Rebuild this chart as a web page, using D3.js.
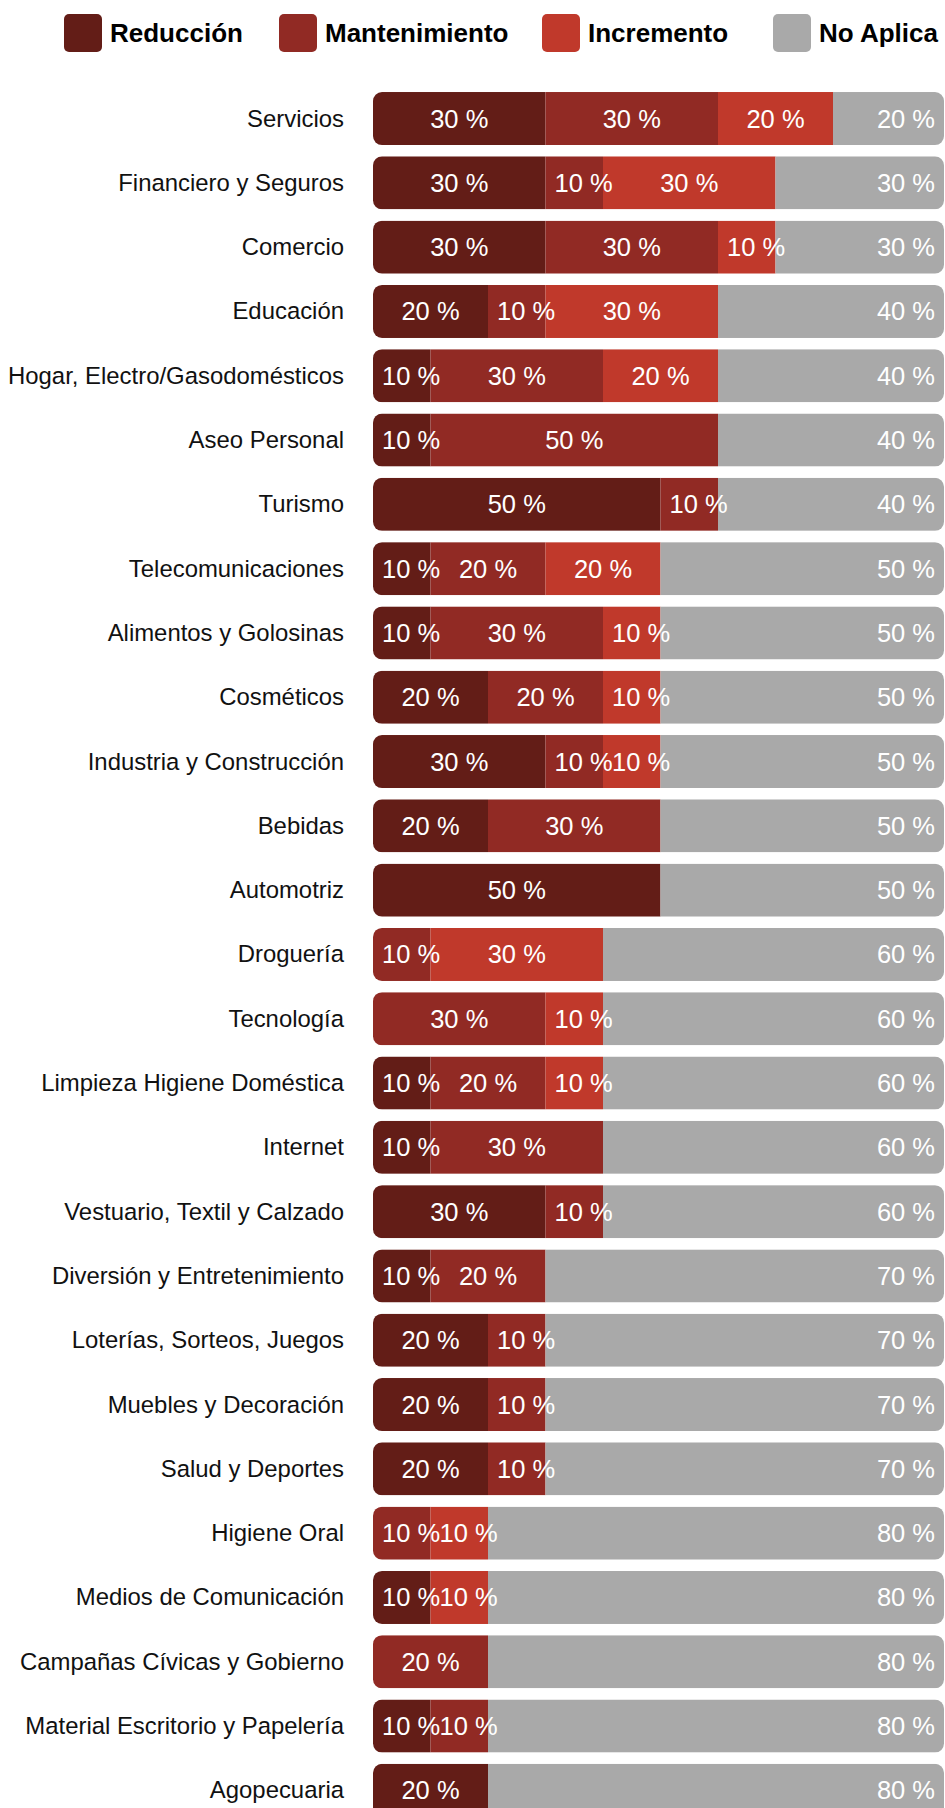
<!DOCTYPE html>
<html>
<head>
<meta charset="utf-8">
<script src="https://cdn.jsdelivr.net/npm/d3@7"></script>
<style>
  body { margin: 0; background: #fff; }
  svg { display: block; }
</style>
</head>
<body>
<div id="plot"></div>
<script>
// categories, top to bottom
const sectors = [
  "Servicios", "Financiero y Seguros", "Comercio", "Educación",
  "Hogar, Electro/Gasodomésticos", "Aseo Personal", "Turismo",
  "Telecomunicaciones", "Alimentos y Golosinas", "Cosméticos",
  "Industria y Construcción", "Bebidas", "Automotriz", "Droguería",
  "Tecnología", "Limpieza Higiene Doméstica", "Internet",
  "Vestuario, Textil y Calzado", "Diversión y Entretenimiento",
  "Loterías, Sorteos, Juegos", "Muebles y Decoración", "Salud y Deportes",
  "Higiene Oral", "Medios de Comunicación", "Campañas Cívicas y Gobierno",
  "Material Escritorio y Papelería", "Agopecuaria"
];
const seriesNames = ["Reducción", "Mantenimiento", "Incremento", "No Aplica"];

// percentages per series, same order as sectors
const reduccion     = [30, 30, 30, 20, 10, 10, 50, 10, 10, 20, 30, 20, 50, 0, 0, 10, 10, 30, 10, 20, 20, 20, 0, 10, 0, 10, 20];
const mantenimiento = [30, 10, 30, 10, 30, 50, 10, 20, 30, 20, 10, 30, 0, 10, 30, 20, 30, 10, 20, 10, 10, 10, 10, 0, 20, 10, 0];
const incremento    = [20, 30, 10, 30, 20, 0, 0, 20, 10, 10, 10, 0, 0, 30, 10, 10, 0, 0, 0, 0, 0, 0, 10, 10, 0, 0, 0];
const noAplica      = [20, 30, 30, 40, 40, 40, 40, 50, 50, 50, 50, 50, 50, 60, 60, 60, 60, 60, 70, 70, 70, 70, 80, 80, 80, 80, 80];

const colors = ["#631d17", "#912a24", "#c0392b", "#a9a9a9"];

const width = 945, height = 1808;
const svg = d3.select("#plot").append("svg")
    .attr("width", width)
    .attr("height", height);

// build rows for the stack
const rows = sectors.map((s, i) => ({
  sector: s,
  "Reducción": reduccion[i],
  "Mantenimiento": mantenimiento[i],
  "Incremento": incremento[i],
  "No Aplica": noAplica[i]
}));

const x = d3.scaleLinear().domain([0, 100]).range([373, 948]);
const barEnd = 944; // right end of the rounded bar
const y = d3.scaleBand().domain(sectors)
    .range([86.4, 86.4 + 27 * 64.3])
    .paddingInner(0.175)
    .paddingOuter(0.0875);
const color = d3.scaleOrdinal().domain(seriesNames).range(colors);

const stacked = d3.stack().keys(seriesNames)(rows);

// legend
const legendX = [64, 279, 542, 773];
const legend = svg.append("g");
seriesNames.forEach((name, i) => {
  const g = legend.append("g").attr("transform", `translate(${legendX[i]},14)`);
  g.append("rect")
    .attr("width", 38).attr("height", 38)
    .attr("rx", 5)
    .attr("fill", color(name));
  g.append("text")
    .attr("x", 46).attr("y", 28)
    .attr("font-family", "'Liberation Sans', Arial, sans-serif")
    .attr("font-weight", "bold")
    .attr("font-size", 26)
    .attr("fill", "#000")
    .text(name);
});

// clip each row to a rounded bar
const defs = svg.append("defs");
sectors.forEach((s, i) => {
  defs.append("clipPath").attr("id", "clip" + i)
    .append("rect")
    .attr("x", x(0)).attr("y", y(s))
    .attr("width", barEnd - x(0)).attr("height", y.bandwidth())
    .attr("rx", 9);
});

// category labels
svg.append("g").selectAll("text")
  .data(sectors)
  .join("text")
    .attr("x", 344)
    .attr("y", d => y(d) + y.bandwidth() / 2 + 8)
    .attr("text-anchor", "end")
    .attr("font-family", "'Liberation Sans', Arial, sans-serif")
    .attr("font-size", 23.9)
    .attr("fill", "#111")
    .text(d => d);

// segments
const rowG = svg.append("g").selectAll("g")
  .data(sectors)
  .join("g")
    .attr("clip-path", (d, i) => `url(#clip${i})`);

rowG.each(function (s, i) {
  const g = d3.select(this);
  stacked.forEach(layer => {
    const seg = layer[i];
    if (seg[1] - seg[0] <= 0) return;
    g.append("rect")
      .attr("x", x(seg[0]))
      .attr("y", y(s))
      .attr("width", x(seg[1]) - x(seg[0]))
      .attr("height", y.bandwidth())
      .attr("fill", color(layer.key));
  });
});

// value labels
const labelG = svg.append("g");
sectors.forEach((s, i) => {
  stacked.forEach(layer => {
    const seg = layer[i];
    const v = seg[1] - seg[0];
    if (v <= 0) return;
    const t = labelG.append("text")
      .attr("y", y(s) + y.bandwidth() / 2 + 9)
      .attr("font-family", "'Liberation Sans', Arial, sans-serif")
      .attr("font-size", 25.5)
      .attr("fill", "#fff")
      .text(v + " %");
    const w = t.node().getComputedTextLength();
    if (layer.key === "No Aplica") {
      t.attr("x", barEnd - 9).attr("text-anchor", "end");
    } else {
      const cx = (x(seg[0]) + x(seg[1])) / 2;
      t.attr("x", Math.max(cx - w / 2, x(seg[0]) + 9));
    }
  });
});
</script>
</body>
</html>
